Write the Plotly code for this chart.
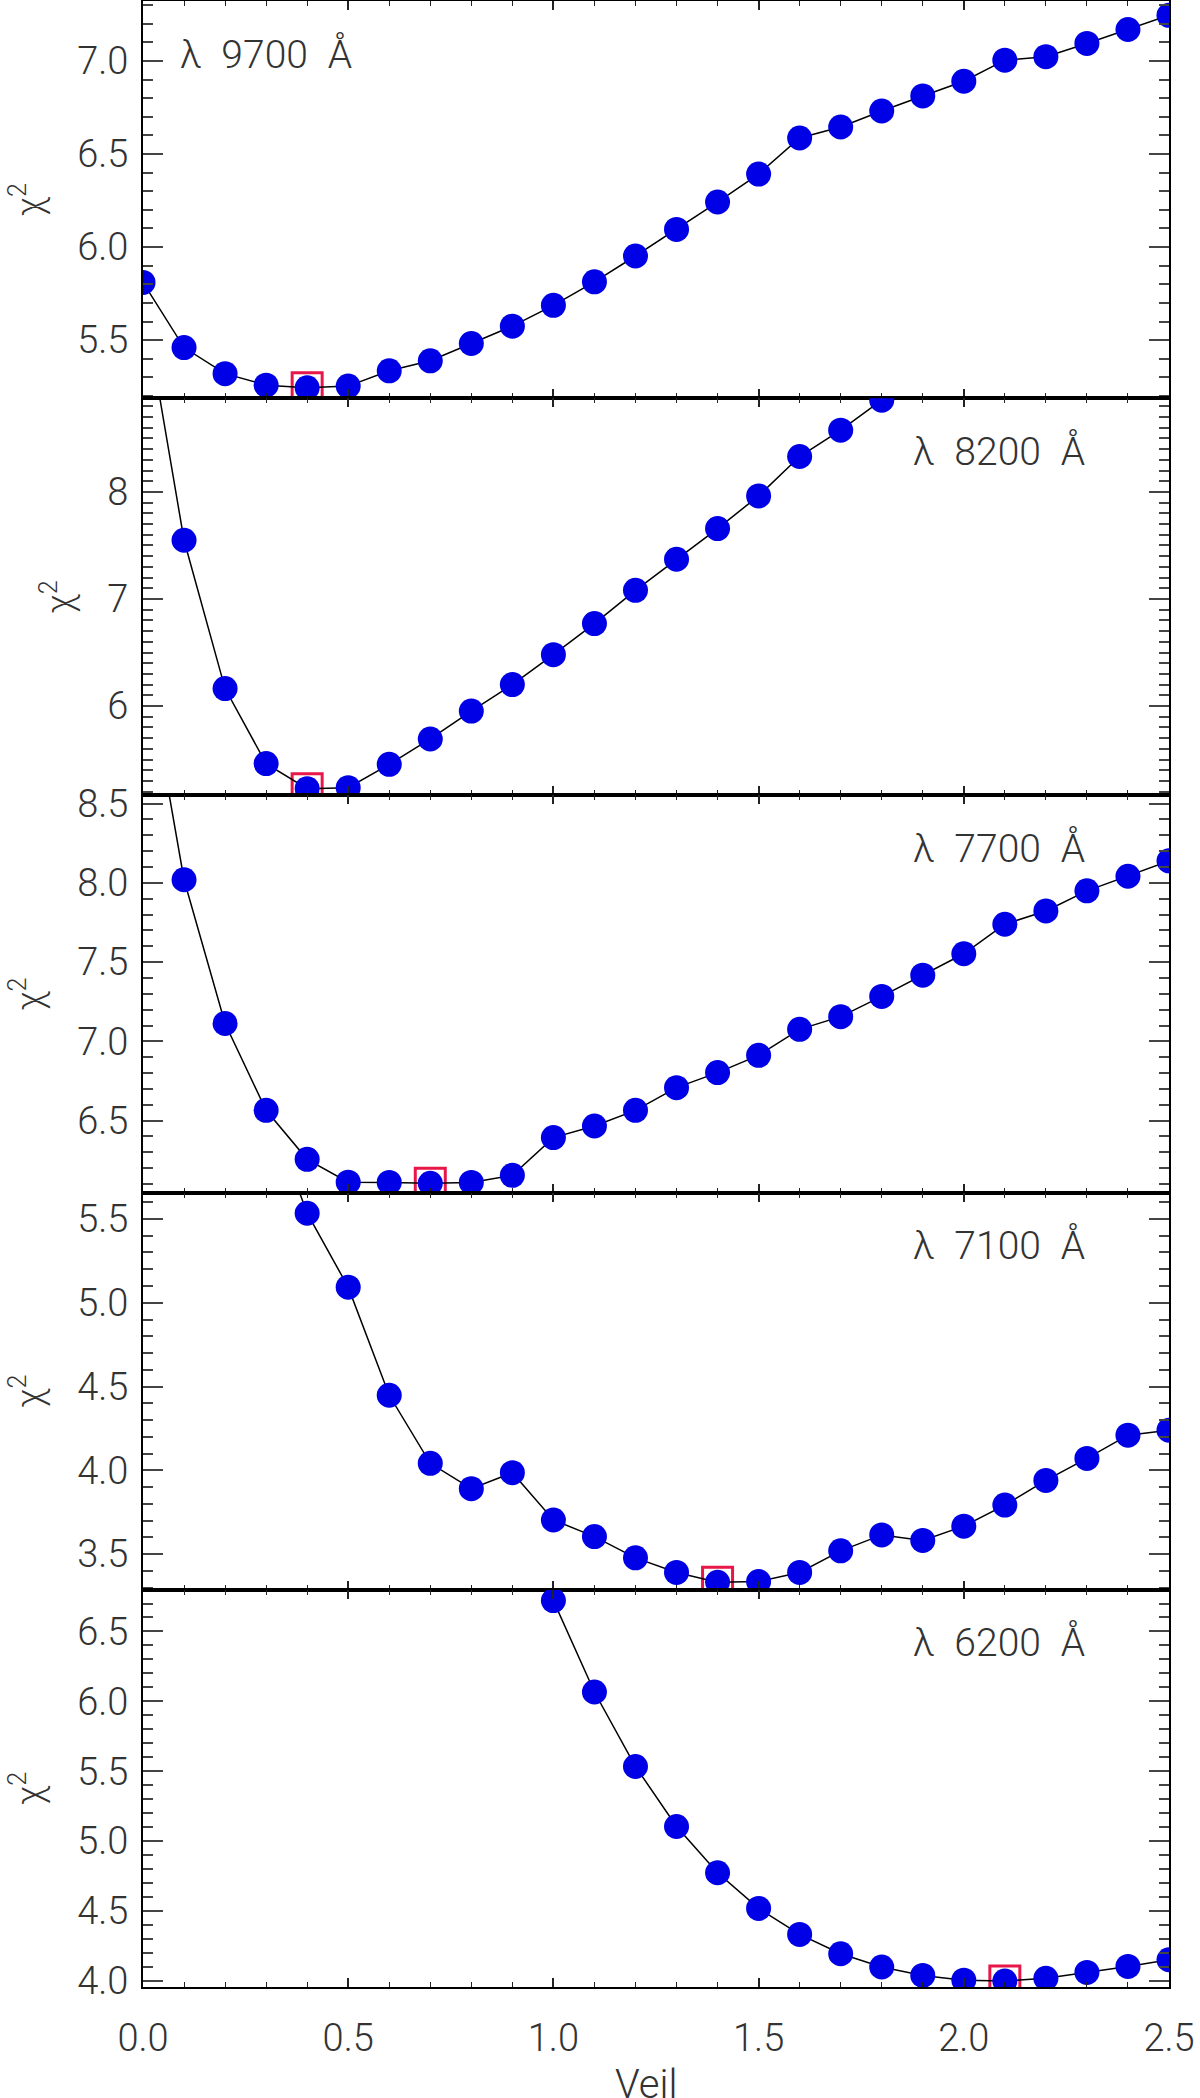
import plotly.graph_objects as go
from plotly.subplots import make_subplots

# veiling values (x) shared by every panel
veil = [0.0, 0.1, 0.2, 0.3, 0.4, 0.5, 0.6, 0.7, 0.8, 0.9,
        1.0, 1.1, 1.2, 1.3, 1.4, 1.5, 1.6, 1.7, 1.8, 1.9,
        2.0, 2.1, 2.2, 2.3, 2.4, 2.5]

wavelengths = [9700, 8200, 7700, 7100, 6200]

chi2_9700 = [5.81, 5.46, 5.32, 5.258, 5.244, 5.253, 5.335, 5.389, 5.482, 5.575,
             5.687, 5.813, 5.952, 6.095, 6.242, 6.392, 6.586, 6.645, 6.731, 6.812,
             6.891, 7.004, 7.023, 7.094, 7.169, 7.245]
chi2_8200 = [9.8, 7.549, 6.163, 5.462, 5.228, 5.237, 5.455, 5.692, 5.953, 6.2,
             6.48, 6.77, 7.081, 7.371, 7.658, 7.963, 8.331, 8.577, 8.857, None,
             None, None, None, None, None, None]
chi2_7700 = [9.5, 8.02, 7.113, 6.565, 6.256, 6.112, 6.11, 6.105, 6.11, 6.155,
             6.393, 6.466, 6.565, 6.708, 6.803, 6.912, 7.076, 7.156, 7.284, 7.418,
             7.553, 7.739, 7.823, 7.95, 8.042, 8.139]
chi2_7100 = [None, None, None, 6.2, 5.534, 5.093, 4.448, 4.042, 3.891, 3.986,
             3.704, 3.605, 3.478, 3.391, 3.332, 3.337, 3.391, 3.52, 3.615, 3.582,
             3.667, 3.793, 3.94, 4.071, 4.21, 4.24]
chi2_6200 = [None, None, None, None, None, None, None, None, None, None,
             6.721, 6.067, 5.534, 5.105, 4.774, 4.519, 4.333, 4.195, 4.10, 4.04,
             4.006, 4.0, 4.019, 4.061, 4.104, 4.152]

# best-fit veil per wavelength (red square)
best_veil = [0.4, 0.4, 0.7, 1.4, 2.1]

# y ranges / major tick steps / tick label formats per panel
y_ranges = [[5.188, 7.322], [5.165, 8.876], [6.046, 8.552], [3.2875, 5.657], [3.957, 6.798]]
y_dticks = [0.5, 1, 0.5, 0.5, 0.5]
y_formats = [".1f", ".0f", ".1f", ".1f", ".1f"]

series = [chi2_9700, chi2_8200, chi2_7700, chi2_7100, chi2_6200]

FONT = "Roboto, Open Sans, DejaVu Sans, sans-serif"
TEXT_COLOR = "#333333"
tick_font = dict(family=FONT, size=38, color=TEXT_COLOR, weight=300)

fig = make_subplots(rows=5, cols=1, shared_xaxes=True, vertical_spacing=0)

for i, (chi2, best) in enumerate(zip(series, best_veil)):
    row = i + 1
    fig.add_trace(
        go.Scatter(
            x=[best],
            y=[chi2[veil.index(best)]],
            mode="markers",
            marker=dict(symbol="square-open", size=30, color="#e8174a",
                        line=dict(width=3, color="#e8174a")),
            showlegend=False,
        ),
        row=row, col=1,
    )
    fig.add_trace(
        go.Scatter(
            x=veil,
            y=chi2,
            mode="lines+markers",
            line=dict(color="black", width=1.5),
            marker=dict(color="#0000e6", size=25),
            showlegend=False,
        ),
        row=row, col=1,
    )
    fig.update_yaxes(
        range=y_ranges[i],
        dtick=y_dticks[i],
        tickformat=y_formats[i],
        title=dict(text="χ<sup>2</sup>", standoff=24,
                   font=dict(family=FONT, size=36, color=TEXT_COLOR, weight=300)),
        row=row, col=1,
    )

    # wavelength label
    fig.add_annotation(
        text=f"λ\u2002{wavelengths[i]}\u2002Å",
        xref="x domain" if row == 1 else f"x{row} domain",
        yref="y domain" if row == 1 else f"y{row} domain",
        x=0.034 if row == 1 else 0.749,
        y=1 - 53 / 397.2,
        xanchor="left", yanchor="middle",
        showarrow=False,
        font=dict(family=FONT, size=39, color=TEXT_COLOR, weight=300),
    )

# x-axis title, placed under the bottom panel
fig.add_annotation(
    text="Veil", xref="paper", yref="paper", x=0.49, y=0,
    yanchor="middle", yshift=-97, showarrow=False,
    font=dict(family=FONT, size=40, color=TEXT_COLOR, weight=300),
)

fig.update_xaxes(
    range=[0, 2.5], dtick=0.5, tick0=0, tickformat=".1f",
    showline=True, mirror="allticks", linecolor="black", linewidth=2,
    ticks="inside", ticklen=9, tickwidth=1.5, tickcolor="#222",
    minor=dict(dtick=0.1, ticks="inside", ticklen=5, tickwidth=1.2, tickcolor="#222"),
    showgrid=False, zeroline=False, automargin=False,
    tickfont=tick_font,
)
fig.update_xaxes(ticklabelstandoff=16, row=5, col=1)
fig.update_yaxes(
    showline=True, mirror="allticks", linecolor="black", linewidth=2,
    ticks="inside", ticklen=20, tickwidth=2, tickcolor="#444",
    minor=dict(dtick=0.1, ticks="inside", ticklen=10, tickwidth=2, tickcolor="#444"),
    showgrid=False, zeroline=False, automargin=False,
    ticklabelstandoff=5,
    tickfont=tick_font,
)

fig.update_layout(
    width=1200, height=2098,
    margin=dict(l=143, r=31, t=1, b=111, autoexpand=False),
    plot_bgcolor="white", paper_bgcolor="white",
)

# drop the browser's default body margin so the figure sits at the page corner
fig.write_html(
    "out.html",
    config={"displayModeBar": False},
    post_script="document.body.style.margin='0';",
)
